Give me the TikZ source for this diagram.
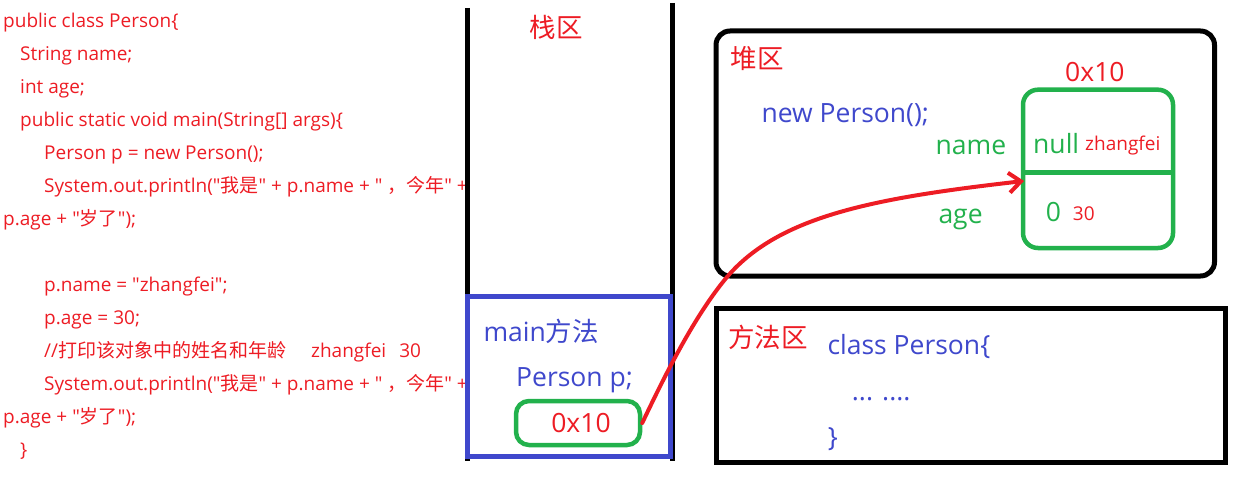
\documentclass[tikz,border=0pt]{standalone}
\usepackage{fontspec}
\setmainfont{Open Sans}[Ligatures=TeXOff]
\newfontfamily\cjkfont{Noto Sans CJK SC}
\newcommand{\zh}[1]{{\cjkfont #1}}
\usepackage{xcolor}
\usetikzlibrary{positioning, arrows.meta, calc}
\definecolor{pred}{HTML}{ED1C24}
\definecolor{pblue}{HTML}{3F48CC}
\definecolor{pgreen}{HTML}{22B14C}

\begin{document}
\begin{tikzpicture}[
  x=1pt, y=-1pt,
  code/.style={anchor=base west, inner sep=0pt, text=pred,
               font=\fontsize{19}{23}\selectfont},
  big/.style={anchor=base west, inner sep=0pt, text=#1,
              font=\fontsize{26.5}{30}\selectfont},
  small/.style={anchor=base west, inner sep=0pt, text=pred,
                font=\fontsize{19}{23}\selectfont},
  area/.style={draw=#1, line width=5pt, inner sep=0pt},
  slot/.style={draw=pgreen, line width=4.5pt, rounded corners=13pt, inner sep=0pt},
  ref/.style={draw=pred, line width=4pt, line cap=round,
              -{Straight Barb[length=12pt,width=20pt]}},
]
\useasboundingbox (0,0) rectangle (1241,481);
%% Source code
\node[code] (c1)  at (3,27.7)   {public class Person\{};
\node[code] (c2)  at (20,60.7)  {String name;};
\node[code] (c3)  at (20,93.7)  {int age;};
\node[code] (c4)  at (20,126.7) {public static void main(String[] args)\{};
\node[code] (c5)  at (44,159.7) {Person p = new Person();};
\node[code] (c6)  at (44,192.7) {System.out.println("\zh{我是}" + p.name + " \zh{，今年}" +};
\node[code] (c7)  at (3,225.7)  {p.age + "\zh{岁了}");};
\node[code] (c8)  at (44,291.7) {p.name = "zhangfei";};
\node[code] (c9)  at (44,324.7) {p.age = 30;};
\node[code] (c10) at (44,357.7) {//\zh{打印该对象中的姓名和年龄}\hspace{25pt}zhangfei\hspace{13pt}30};
\node[code] (c11) at (44,390.7) {System.out.println("\zh{我是}" + p.name + " \zh{，今年}" +};
\node[code] (c12) at (3,423.7)  {p.age + "\zh{岁了}");};
\node[code] (c13) at (20,456.7) {\}};
%% Stack
\coordinate (stl) at (467.5,8);
\coordinate (str) at (672,3);
\draw[line width=5pt] (stl) -- (467.5,461);
\draw[line width=5pt] (str) -- (672,461);
\node[font=\fontsize{26.5}{30}\selectfont\cjkfont, text=pred, inner sep=0pt]
  (stack) at (556.4,27.5) {栈区};
\node[area=pblue, minimum width=203pt, minimum height=160pt] (frame) at (569.4,376.7) {};
\node[big=pblue] (mname) at (483.3,341.7) {main\zh{方法}};
\node[big=pblue] (pvar)  at (516,386)     {Person p;};
\node[slot, minimum width=124pt, minimum height=44pt, text=pred,
      font=\fontsize{26.5}{30}\selectfont] (addr) at (578,423) {\hspace{6pt}0x10};
%% Heap
\node[area=black, rounded corners=14pt, minimum width=498.5pt, minimum height=245pt]
  (heap) at (965.25,153.5) {};
\node[font=\fontsize{26.5}{30}\selectfont\cjkfont, text=pred, inner sep=0pt]
  (heapl) at (757.2,58.7) {堆区};
\node[big=pblue] (newp)  at (761.4,122.8) {new Person();};
\node[big=pred]  (oaddr) at (1065,82)     {0x10};
\node[slot, rounded corners=15pt, minimum width=150pt, minimum height=158.3pt]
  (obj) at (1098,168.85) {};
\coordinate (split) at (1098,172.5);
\draw[pgreen, line width=4.5pt] (split -| obj.west) -- (split -| obj.east);
\node[big=pgreen] (fname) at (935.5,155)  {name};
\node[big=pgreen] (fage)  at (938.3,223)  {age};
\node[big=pgreen] (vname) at (1033,154)   {null};
\node[small]      (nname) at (1085,150.7) {zhangfei};
\node[big=pgreen] (vage)  at (1045.7,221) {0};
\node[small]      (nage)  at (1072.7,220) {30};
%% Method area
\node[area=black, minimum width=509.5pt, minimum height=154pt] (meth) at (970.75,385) {};
\node[font=\fontsize{26.5}{30}\selectfont\cjkfont, text=pred, inner sep=0pt]
  (methl) at (767.8,337.5) {方法区};
\node[big=pblue] (cls)  at (827.3,354.3) {class Person\{};
\node[big=pblue] (body) at (851.7,400)   {... ....};
\node[big=pblue] (cend) at (827.6,446)   {\}};
%% Reference
\coordinate (tip) at (1024,181);
\draw[ref] (addr.east) .. controls (665,375) and (695,315) .. (727,277)
  .. controls (779,216) and (874,198) .. (tip);
\end{tikzpicture}
\end{document}
